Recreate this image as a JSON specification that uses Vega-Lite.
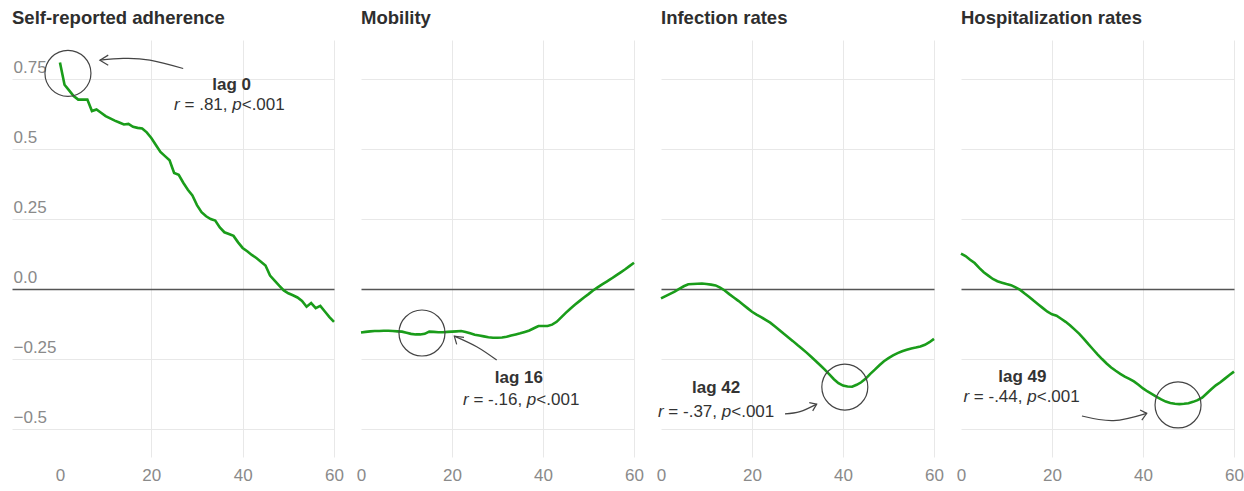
{
  "$schema": "https://vega.github.io/schema/vega-lite/v6.json",
  "background": "white",
  "padding": {"left": 12, "top": 8, "right": 4, "bottom": 4},
  "config": {
    "view": {"stroke": null},
    "font": "Liberation Sans",
    "axis": {"domain": false, "ticks": false, "labelColor": "#8a8a8a", "labelFontSize": 17, "labelFont": "Liberation Sans"},
    "title": {"anchor": "start", "frame": "group", "fontSize": 18.5, "fontWeight": "bold", "color": "#2e2e2e", "baseline": "alphabetic", "offset": 13, "font": "Liberation Sans"}
  },
  "datasets": {
    "series": [
      {"panel":1,"lag":0,"corr":0.81},{"panel":1,"lag":1,"corr":0.73},{"panel":1,"lag":2,"corr":0.71},{"panel":1,"lag":3,"corr":0.69},{"panel":1,"lag":4,"corr":0.677},{"panel":1,"lag":5,"corr":0.677},{"panel":1,"lag":6,"corr":0.677},{"panel":1,"lag":7,"corr":0.636},{"panel":1,"lag":8,"corr":0.642},{"panel":1,"lag":9,"corr":0.63},
      {"panel":1,"lag":10,"corr":0.618},{"panel":1,"lag":11,"corr":0.61},{"panel":1,"lag":12,"corr":0.602},{"panel":1,"lag":13,"corr":0.595},{"panel":1,"lag":14,"corr":0.588},{"panel":1,"lag":15,"corr":0.59},{"panel":1,"lag":16,"corr":0.58},{"panel":1,"lag":17,"corr":0.576},{"panel":1,"lag":18,"corr":0.574},{"panel":1,"lag":19,"corr":0.56},
      {"panel":1,"lag":20,"corr":0.54},{"panel":1,"lag":21,"corr":0.515},{"panel":1,"lag":22,"corr":0.49},{"panel":1,"lag":23,"corr":0.475},{"panel":1,"lag":24,"corr":0.46},{"panel":1,"lag":25,"corr":0.415},{"panel":1,"lag":26,"corr":0.408},{"panel":1,"lag":27,"corr":0.38},{"panel":1,"lag":28,"corr":0.355},{"panel":1,"lag":29,"corr":0.335},
      {"panel":1,"lag":30,"corr":0.3},{"panel":1,"lag":31,"corr":0.275},{"panel":1,"lag":32,"corr":0.26},{"panel":1,"lag":33,"corr":0.25},{"panel":1,"lag":34,"corr":0.245},{"panel":1,"lag":35,"corr":0.22},{"panel":1,"lag":36,"corr":0.203},{"panel":1,"lag":37,"corr":0.197},{"panel":1,"lag":38,"corr":0.19},{"panel":1,"lag":39,"corr":0.167},
      {"panel":1,"lag":40,"corr":0.147},{"panel":1,"lag":41,"corr":0.135},{"panel":1,"lag":42,"corr":0.122},{"panel":1,"lag":43,"corr":0.111},{"panel":1,"lag":44,"corr":0.098},{"panel":1,"lag":45,"corr":0.084},{"panel":1,"lag":46,"corr":0.048},{"panel":1,"lag":47,"corr":0.03},{"panel":1,"lag":48,"corr":0.012},{"panel":1,"lag":49,"corr":-0.005},
      {"panel":1,"lag":50,"corr":-0.015},{"panel":1,"lag":51,"corr":-0.022},{"panel":1,"lag":52,"corr":-0.03},{"panel":1,"lag":53,"corr":-0.042},{"panel":1,"lag":54,"corr":-0.063},{"panel":1,"lag":55,"corr":-0.05},{"panel":1,"lag":56,"corr":-0.068},{"panel":1,"lag":57,"corr":-0.06},{"panel":1,"lag":58,"corr":-0.08},{"panel":1,"lag":59,"corr":-0.1},{"panel":1,"lag":60,"corr":-0.117},

      {"panel":2,"lag":0,"corr":-0.155},{"panel":2,"lag":1,"corr":-0.153},{"panel":2,"lag":2,"corr":-0.151},{"panel":2,"lag":3,"corr":-0.15},{"panel":2,"lag":4,"corr":-0.15},{"panel":2,"lag":5,"corr":-0.149},{"panel":2,"lag":6,"corr":-0.149},{"panel":2,"lag":7,"corr":-0.15},{"panel":2,"lag":8,"corr":-0.151},{"panel":2,"lag":9,"corr":-0.152},
      {"panel":2,"lag":10,"corr":-0.156},{"panel":2,"lag":11,"corr":-0.16},{"panel":2,"lag":12,"corr":-0.162},{"panel":2,"lag":13,"corr":-0.162},{"panel":2,"lag":14,"corr":-0.16},{"panel":2,"lag":15,"corr":-0.152},{"panel":2,"lag":16,"corr":-0.153},{"panel":2,"lag":17,"corr":-0.154},{"panel":2,"lag":18,"corr":-0.154},{"panel":2,"lag":19,"corr":-0.153},
      {"panel":2,"lag":20,"corr":-0.152},{"panel":2,"lag":21,"corr":-0.151},{"panel":2,"lag":22,"corr":-0.15},{"panel":2,"lag":23,"corr":-0.153},{"panel":2,"lag":24,"corr":-0.158},{"panel":2,"lag":25,"corr":-0.163},{"panel":2,"lag":26,"corr":-0.166},{"panel":2,"lag":27,"corr":-0.169},{"panel":2,"lag":28,"corr":-0.172},{"panel":2,"lag":29,"corr":-0.174},
      {"panel":2,"lag":30,"corr":-0.174},{"panel":2,"lag":31,"corr":-0.173},{"panel":2,"lag":32,"corr":-0.17},{"panel":2,"lag":33,"corr":-0.166},{"panel":2,"lag":34,"corr":-0.162},{"panel":2,"lag":35,"corr":-0.158},{"panel":2,"lag":36,"corr":-0.153},{"panel":2,"lag":37,"corr":-0.148},{"panel":2,"lag":38,"corr":-0.14},{"panel":2,"lag":39,"corr":-0.132},
      {"panel":2,"lag":40,"corr":-0.132},{"panel":2,"lag":41,"corr":-0.132},{"panel":2,"lag":42,"corr":-0.127},{"panel":2,"lag":43,"corr":-0.117},{"panel":2,"lag":44,"corr":-0.101},{"panel":2,"lag":45,"corr":-0.085},{"panel":2,"lag":46,"corr":-0.07},{"panel":2,"lag":47,"corr":-0.056},{"panel":2,"lag":48,"corr":-0.043},{"panel":2,"lag":49,"corr":-0.03},
      {"panel":2,"lag":50,"corr":-0.018},{"panel":2,"lag":51,"corr":-0.005},{"panel":2,"lag":52,"corr":0.006},{"panel":2,"lag":53,"corr":0.017},{"panel":2,"lag":54,"corr":0.027},{"panel":2,"lag":55,"corr":0.037},{"panel":2,"lag":56,"corr":0.048},{"panel":2,"lag":57,"corr":0.059},{"panel":2,"lag":58,"corr":0.07},{"panel":2,"lag":59,"corr":0.082},{"panel":2,"lag":60,"corr":0.094},

      {"panel":3,"lag":0,"corr":-0.033},{"panel":3,"lag":1,"corr":-0.025},{"panel":3,"lag":2,"corr":-0.017},{"panel":3,"lag":3,"corr":-0.009},{"panel":3,"lag":4,"corr":0.001},{"panel":3,"lag":5,"corr":0.01},{"panel":3,"lag":6,"corr":0.017},{"panel":3,"lag":7,"corr":0.018},{"panel":3,"lag":8,"corr":0.019},{"panel":3,"lag":9,"corr":0.02},
      {"panel":3,"lag":10,"corr":0.018},{"panel":3,"lag":11,"corr":0.016},{"panel":3,"lag":12,"corr":0.013},{"panel":3,"lag":13,"corr":0.005},{"panel":3,"lag":14,"corr":-0.005},{"panel":3,"lag":15,"corr":-0.018},{"panel":3,"lag":16,"corr":-0.03},{"panel":3,"lag":17,"corr":-0.042},{"panel":3,"lag":18,"corr":-0.055},{"panel":3,"lag":19,"corr":-0.068},
      {"panel":3,"lag":20,"corr":-0.081},{"panel":3,"lag":21,"corr":-0.091},{"panel":3,"lag":22,"corr":-0.1},{"panel":3,"lag":23,"corr":-0.11},{"panel":3,"lag":24,"corr":-0.12},{"panel":3,"lag":25,"corr":-0.133},{"panel":3,"lag":26,"corr":-0.146},{"panel":3,"lag":27,"corr":-0.16},{"panel":3,"lag":28,"corr":-0.173},{"panel":3,"lag":29,"corr":-0.186},
      {"panel":3,"lag":30,"corr":-0.2},{"panel":3,"lag":31,"corr":-0.213},{"panel":3,"lag":32,"corr":-0.227},{"panel":3,"lag":33,"corr":-0.242},{"panel":3,"lag":34,"corr":-0.257},{"panel":3,"lag":35,"corr":-0.272},{"panel":3,"lag":36,"corr":-0.288},{"panel":3,"lag":37,"corr":-0.305},{"panel":3,"lag":38,"corr":-0.322},{"panel":3,"lag":39,"corr":-0.336},
      {"panel":3,"lag":40,"corr":-0.345},{"panel":3,"lag":41,"corr":-0.348},{"panel":3,"lag":42,"corr":-0.349},{"panel":3,"lag":43,"corr":-0.342},{"panel":3,"lag":44,"corr":-0.333},{"panel":3,"lag":45,"corr":-0.32},{"panel":3,"lag":46,"corr":-0.303},{"panel":3,"lag":47,"corr":-0.288},{"panel":3,"lag":48,"corr":-0.272},{"panel":3,"lag":49,"corr":-0.258},
      {"panel":3,"lag":50,"corr":-0.247},{"panel":3,"lag":51,"corr":-0.237},{"panel":3,"lag":52,"corr":-0.229},{"panel":3,"lag":53,"corr":-0.222},{"panel":3,"lag":54,"corr":-0.217},{"panel":3,"lag":55,"corr":-0.212},{"panel":3,"lag":56,"corr":-0.209},{"panel":3,"lag":57,"corr":-0.205},{"panel":3,"lag":58,"corr":-0.199},{"panel":3,"lag":59,"corr":-0.19},{"panel":3,"lag":60,"corr":-0.178},

      {"panel":4,"lag":0,"corr":0.127},{"panel":4,"lag":1,"corr":0.118},{"panel":4,"lag":2,"corr":0.105},{"panel":4,"lag":3,"corr":0.093},{"panel":4,"lag":4,"corr":0.076},{"panel":4,"lag":5,"corr":0.06},{"panel":4,"lag":6,"corr":0.048},{"panel":4,"lag":7,"corr":0.036},{"panel":4,"lag":8,"corr":0.028},{"panel":4,"lag":9,"corr":0.023},
      {"panel":4,"lag":10,"corr":0.018},{"panel":4,"lag":11,"corr":0.014},{"panel":4,"lag":12,"corr":0.006},{"panel":4,"lag":13,"corr":-0.003},{"panel":4,"lag":14,"corr":-0.016},{"panel":4,"lag":15,"corr":-0.028},{"panel":4,"lag":16,"corr":-0.042},{"panel":4,"lag":17,"corr":-0.055},{"panel":4,"lag":18,"corr":-0.068},{"panel":4,"lag":19,"corr":-0.081},
      {"panel":4,"lag":20,"corr":-0.09},{"panel":4,"lag":21,"corr":-0.095},{"panel":4,"lag":22,"corr":-0.106},{"panel":4,"lag":23,"corr":-0.117},{"panel":4,"lag":24,"corr":-0.13},{"panel":4,"lag":25,"corr":-0.145},{"panel":4,"lag":26,"corr":-0.16},{"panel":4,"lag":27,"corr":-0.178},{"panel":4,"lag":28,"corr":-0.197},{"panel":4,"lag":29,"corr":-0.215},
      {"panel":4,"lag":30,"corr":-0.233},{"panel":4,"lag":31,"corr":-0.25},{"panel":4,"lag":32,"corr":-0.266},{"panel":4,"lag":33,"corr":-0.28},{"panel":4,"lag":34,"corr":-0.292},{"panel":4,"lag":35,"corr":-0.303},{"panel":4,"lag":36,"corr":-0.313},{"panel":4,"lag":37,"corr":-0.321},{"panel":4,"lag":38,"corr":-0.33},{"panel":4,"lag":39,"corr":-0.342},
      {"panel":4,"lag":40,"corr":-0.355},{"panel":4,"lag":41,"corr":-0.366},{"panel":4,"lag":42,"corr":-0.375},{"panel":4,"lag":43,"corr":-0.385},{"panel":4,"lag":44,"corr":-0.394},{"panel":4,"lag":45,"corr":-0.402},{"panel":4,"lag":46,"corr":-0.407},{"panel":4,"lag":47,"corr":-0.41},{"panel":4,"lag":48,"corr":-0.411},{"panel":4,"lag":49,"corr":-0.41},
      {"panel":4,"lag":50,"corr":-0.408},{"panel":4,"lag":51,"corr":-0.403},{"panel":4,"lag":52,"corr":-0.397},{"panel":4,"lag":53,"corr":-0.388},{"panel":4,"lag":54,"corr":-0.373},{"panel":4,"lag":55,"corr":-0.358},{"panel":4,"lag":56,"corr":-0.344},{"panel":4,"lag":57,"corr":-0.333},{"panel":4,"lag":58,"corr":-0.32},{"panel":4,"lag":59,"corr":-0.307},{"panel":4,"lag":60,"corr":-0.295}
    ],
    "ann": [
      {"panel":1,"kind":"circle","lag":1.75,"corr":0.771},
      {"panel":1,"kind":"shaft","ord":1,"lag":26.98,"corr":0.788},{"panel":1,"kind":"shaft","ord":2,"lag":19.69,"corr":0.818},{"panel":1,"kind":"shaft","ord":3,"lag":13.85,"corr":0.824},{"panel":1,"kind":"shaft","ord":4,"lag":8.75,"corr":0.818},
      {"panel":1,"kind":"head","ord":1,"lag":10.57,"corr":0.836},{"panel":1,"kind":"head","ord":2,"lag":8.75,"corr":0.818},{"panel":1,"kind":"head","ord":3,"lag":10.57,"corr":0.8},
      {"panel":1,"kind":"label","lag":37.6,"corr":0.729,"txt":"lag 0"},
      {"panel":1,"kind":"stats","lag":37.1,"corr":0.657,"r":"r","mid":"= .81,","p":"p","tail":"<.001"},

      {"panel":2,"kind":"circle","lag":13.4,"corr":-0.157},
      {"panel":2,"kind":"shaft","ord":1,"lag":29.82,"corr":-0.2536},{"panel":2,"kind":"shaft","ord":2,"lag":25.43,"corr":-0.206},{"panel":2,"kind":"shaft","ord":3,"lag":20.51,"corr":-0.168},
      {"panel":2,"kind":"head","ord":1,"lag":22.64,"corr":-0.1725},{"panel":2,"kind":"head","ord":2,"lag":20.51,"corr":-0.168},{"panel":2,"kind":"head","ord":3,"lag":21.03,"corr":-0.1975},
      {"panel":2,"kind":"label","lag":34.7,"corr":-0.318,"txt":"lag 16"},
      {"panel":2,"kind":"stats","lag":35.2,"corr":-0.396,"r":"r","mid":"= -.16,","p":"p","tail":"<.001"},

      {"panel":3,"kind":"circle","lag":40.4,"corr":-0.35},
      {"panel":3,"kind":"shaft","ord":1,"lag":27.25,"corr":-0.446},{"panel":3,"kind":"shaft","ord":2,"lag":30.55,"corr":-0.438},{"panel":3,"kind":"shaft","ord":3,"lag":34.22,"corr":-0.411},
      {"panel":3,"kind":"head","ord":1,"lag":32.59,"corr":-0.406},{"panel":3,"kind":"head","ord":2,"lag":34.22,"corr":-0.411},{"panel":3,"kind":"head","ord":3,"lag":33.34,"corr":-0.435},
      {"panel":3,"kind":"label","lag":12.1,"corr":-0.354,"txt":"lag 42"},
      {"panel":3,"kind":"stats","lag":12.1,"corr":-0.439,"r":"r","mid":"= -.37,","p":"p","tail":"<.001"},

      {"panel":4,"kind":"circle","lag":47.7,"corr":-0.414},
      {"panel":4,"kind":"shaft","ord":1,"lag":26.58,"corr":-0.4536},{"panel":4,"kind":"shaft","ord":2,"lag":33.51,"corr":-0.47},{"panel":4,"kind":"shaft","ord":3,"lag":40.83,"corr":-0.444},
      {"panel":4,"kind":"head","ord":1,"lag":39.36,"corr":-0.432},{"panel":4,"kind":"head","ord":2,"lag":40.83,"corr":-0.444},{"panel":4,"kind":"head","ord":3,"lag":39.74,"corr":-0.468},
      {"panel":4,"kind":"label","lag":13.5,"corr":-0.314,"txt":"lag 49"},
      {"panel":4,"kind":"stats","lag":13.3,"corr":-0.386,"r":"r","mid":"= -.44,","p":"p","tail":"<.001"}
    ]
  },
  "spacing": 27,
  "bounds": "flush",
  "hconcat": [
    {
      "width": 322, "height": 417,
      "title": "Self-reported adherence",
      "encoding": {
        "x": {"field": "lag", "type": "quantitative", "scale": {"domain": [-10.5, 60], "nice": false, "zero": false},
              "axis": {"values": [0, 20, 40, 60], "title": null, "labelPadding": 10, "labelFlush": false,
                       "gridColor": {"condition": {"test": "datum.value === 0", "value": "transparent"}, "value": "#e8e8e8"}}},
        "y": {"field": "corr", "type": "quantitative", "scale": {"domain": [-0.6, 0.89], "nice": false, "zero": false},
              "axis": {"values": [-0.5, -0.25, 0, 0.25, 0.5, 0.75], "title": null, "labelAlign": "left", "labelPadding": -1, "labelBaseline": "alphabetic", "labelOffset": -7,
                       "labelExpr": "datum.value === 0 ? '0.0' : replace(format(datum.value, '.2~f'), '-', '−')",
                       "gridColor": {"condition": {"test": "datum.value === 0", "value": "#555555"}, "value": "#e8e8e8"},
                       "gridWidth": {"condition": {"test": "datum.value === 0", "value": 1.3}, "value": 1}}}
      },
      "layer": [
        {"data": {"name": "series"}, "transform": [{"filter": "datum.panel === 1"}], "mark": {"type": "line", "color": "#1a9c1a", "strokeWidth": 2.6}},
        {"data": {"name": "ann"}, "transform": [{"filter": "datum.panel === 1 && datum.kind === 'circle'"}], "mark": {"type": "point", "shape": "circle", "size": 2116, "filled": false, "stroke": "#444444", "strokeWidth": 1.2, "opacity": 1}},
        {"data": {"name": "ann"}, "transform": [{"filter": "datum.panel === 1 && datum.kind === 'shaft'"}], "mark": {"type": "line", "color": "#444444", "strokeWidth": 1.2, "interpolate": "natural"}, "encoding": {"order": {"field": "ord", "type": "quantitative"}}},
        {"data": {"name": "ann"}, "transform": [{"filter": "datum.panel === 1 && datum.kind === 'head'"}], "mark": {"type": "line", "color": "#444444", "strokeWidth": 1.2}, "encoding": {"order": {"field": "ord", "type": "quantitative"}}},
        {"data": {"name": "ann"}, "transform": [{"filter": "datum.panel === 1 && datum.kind === 'label'"}], "mark": {"type": "text", "fontSize": 17, "fontWeight": "bold", "color": "#333333", "align": "center", "baseline": "middle"}, "encoding": {"text": {"field": "txt"}}},
        {"data": {"name": "ann"}, "transform": [{"filter": "datum.panel === 1 && datum.kind === 'stats'"}], "mark": {"type": "text", "fontSize": 17, "fontStyle": "italic", "color": "#333333", "align": "left", "baseline": "middle", "dx": -55.3}, "encoding": {"text": {"field": "r"}}},
        {"data": {"name": "ann"}, "transform": [{"filter": "datum.panel === 1 && datum.kind === 'stats'"}], "mark": {"type": "text", "fontSize": 17, "color": "#333333", "align": "left", "baseline": "middle", "dx": -44.9}, "encoding": {"text": {"field": "mid"}}},
        {"data": {"name": "ann"}, "transform": [{"filter": "datum.panel === 1 && datum.kind === 'stats'"}], "mark": {"type": "text", "fontSize": 17, "fontStyle": "italic", "color": "#333333", "align": "left", "baseline": "middle", "dx": 2.8}, "encoding": {"text": {"field": "p"}}},
        {"data": {"name": "ann"}, "transform": [{"filter": "datum.panel === 1 && datum.kind === 'stats'"}], "mark": {"type": "text", "fontSize": 17, "color": "#333333", "align": "left", "baseline": "middle", "dx": 12.3}, "encoding": {"text": {"field": "tail"}}}
      ]
    },
    {
      "width": 273, "height": 417,
      "title": "Mobility",
      "encoding": {
        "x": {"field": "lag", "type": "quantitative", "scale": {"domain": [0, 60], "nice": false, "zero": false},
              "axis": {"values": [0, 20, 40, 60], "title": null, "labelPadding": 10, "labelFlush": false,
                       "gridColor": {"condition": {"test": "datum.value === 0", "value": "transparent"}, "value": "#e8e8e8"}}},
        "y": {"field": "corr", "type": "quantitative", "scale": {"domain": [-0.6, 0.89], "nice": false, "zero": false},
              "axis": {"values": [-0.5, -0.25, 0, 0.25, 0.5, 0.75], "title": null, "labels": false,
                       "gridColor": {"condition": {"test": "datum.value === 0", "value": "#555555"}, "value": "#e8e8e8"},
                       "gridWidth": {"condition": {"test": "datum.value === 0", "value": 1.3}, "value": 1}}}
      },
      "layer": [
        {"data": {"name": "series"}, "transform": [{"filter": "datum.panel === 2"}], "mark": {"type": "line", "color": "#1a9c1a", "strokeWidth": 2.6}},
        {"data": {"name": "ann"}, "transform": [{"filter": "datum.panel === 2 && datum.kind === 'circle'"}], "mark": {"type": "point", "shape": "circle", "size": 2116, "filled": false, "stroke": "#444444", "strokeWidth": 1.2, "opacity": 1}},
        {"data": {"name": "ann"}, "transform": [{"filter": "datum.panel === 2 && datum.kind === 'shaft'"}], "mark": {"type": "line", "color": "#444444", "strokeWidth": 1.2, "interpolate": "natural"}, "encoding": {"order": {"field": "ord", "type": "quantitative"}}},
        {"data": {"name": "ann"}, "transform": [{"filter": "datum.panel === 2 && datum.kind === 'head'"}], "mark": {"type": "line", "color": "#444444", "strokeWidth": 1.2}, "encoding": {"order": {"field": "ord", "type": "quantitative"}}},
        {"data": {"name": "ann"}, "transform": [{"filter": "datum.panel === 2 && datum.kind === 'label'"}], "mark": {"type": "text", "fontSize": 17, "fontWeight": "bold", "color": "#333333", "align": "center", "baseline": "middle"}, "encoding": {"text": {"field": "txt"}}},
        {"data": {"name": "ann"}, "transform": [{"filter": "datum.panel === 2 && datum.kind === 'stats'"}], "mark": {"type": "text", "fontSize": 17, "fontStyle": "italic", "color": "#333333", "align": "left", "baseline": "middle", "dx": -58.1}, "encoding": {"text": {"field": "r"}}},
        {"data": {"name": "ann"}, "transform": [{"filter": "datum.panel === 2 && datum.kind === 'stats'"}], "mark": {"type": "text", "fontSize": 17, "color": "#333333", "align": "left", "baseline": "middle", "dx": -47.7}, "encoding": {"text": {"field": "mid"}}},
        {"data": {"name": "ann"}, "transform": [{"filter": "datum.panel === 2 && datum.kind === 'stats'"}], "mark": {"type": "text", "fontSize": 17, "fontStyle": "italic", "color": "#333333", "align": "left", "baseline": "middle", "dx": 5.7}, "encoding": {"text": {"field": "p"}}},
        {"data": {"name": "ann"}, "transform": [{"filter": "datum.panel === 2 && datum.kind === 'stats'"}], "mark": {"type": "text", "fontSize": 17, "color": "#333333", "align": "left", "baseline": "middle", "dx": 15.2}, "encoding": {"text": {"field": "tail"}}}
      ]
    },
    {
      "width": 273, "height": 417,
      "title": "Infection rates",
      "encoding": {
        "x": {"field": "lag", "type": "quantitative", "scale": {"domain": [0, 60], "nice": false, "zero": false},
              "axis": {"values": [0, 20, 40, 60], "title": null, "labelPadding": 10, "labelFlush": false,
                       "gridColor": {"condition": {"test": "datum.value === 0", "value": "transparent"}, "value": "#e8e8e8"}}},
        "y": {"field": "corr", "type": "quantitative", "scale": {"domain": [-0.6, 0.89], "nice": false, "zero": false},
              "axis": {"values": [-0.5, -0.25, 0, 0.25, 0.5, 0.75], "title": null, "labels": false,
                       "gridColor": {"condition": {"test": "datum.value === 0", "value": "#555555"}, "value": "#e8e8e8"},
                       "gridWidth": {"condition": {"test": "datum.value === 0", "value": 1.3}, "value": 1}}}
      },
      "layer": [
        {"data": {"name": "series"}, "transform": [{"filter": "datum.panel === 3"}], "mark": {"type": "line", "color": "#1a9c1a", "strokeWidth": 2.6}},
        {"data": {"name": "ann"}, "transform": [{"filter": "datum.panel === 3 && datum.kind === 'circle'"}], "mark": {"type": "point", "shape": "circle", "size": 2116, "filled": false, "stroke": "#444444", "strokeWidth": 1.2, "opacity": 1}},
        {"data": {"name": "ann"}, "transform": [{"filter": "datum.panel === 3 && datum.kind === 'shaft'"}], "mark": {"type": "line", "color": "#444444", "strokeWidth": 1.2, "interpolate": "natural"}, "encoding": {"order": {"field": "ord", "type": "quantitative"}}},
        {"data": {"name": "ann"}, "transform": [{"filter": "datum.panel === 3 && datum.kind === 'head'"}], "mark": {"type": "line", "color": "#444444", "strokeWidth": 1.2}, "encoding": {"order": {"field": "ord", "type": "quantitative"}}},
        {"data": {"name": "ann"}, "transform": [{"filter": "datum.panel === 3 && datum.kind === 'label'"}], "mark": {"type": "text", "fontSize": 17, "fontWeight": "bold", "color": "#333333", "align": "center", "baseline": "middle"}, "encoding": {"text": {"field": "txt"}}},
        {"data": {"name": "ann"}, "transform": [{"filter": "datum.panel === 3 && datum.kind === 'stats'"}], "mark": {"type": "text", "fontSize": 17, "fontStyle": "italic", "color": "#333333", "align": "left", "baseline": "middle", "dx": -58.1}, "encoding": {"text": {"field": "r"}}},
        {"data": {"name": "ann"}, "transform": [{"filter": "datum.panel === 3 && datum.kind === 'stats'"}], "mark": {"type": "text", "fontSize": 17, "color": "#333333", "align": "left", "baseline": "middle", "dx": -47.7}, "encoding": {"text": {"field": "mid"}}},
        {"data": {"name": "ann"}, "transform": [{"filter": "datum.panel === 3 && datum.kind === 'stats'"}], "mark": {"type": "text", "fontSize": 17, "fontStyle": "italic", "color": "#333333", "align": "left", "baseline": "middle", "dx": 5.7}, "encoding": {"text": {"field": "p"}}},
        {"data": {"name": "ann"}, "transform": [{"filter": "datum.panel === 3 && datum.kind === 'stats'"}], "mark": {"type": "text", "fontSize": 17, "color": "#333333", "align": "left", "baseline": "middle", "dx": 15.2}, "encoding": {"text": {"field": "tail"}}}
      ]
    },
    {
      "width": 273, "height": 417,
      "title": "Hospitalization rates",
      "encoding": {
        "x": {"field": "lag", "type": "quantitative", "scale": {"domain": [0, 60], "nice": false, "zero": false},
              "axis": {"values": [0, 20, 40, 60], "title": null, "labelPadding": 10, "labelFlush": false,
                       "gridColor": {"condition": {"test": "datum.value === 0", "value": "transparent"}, "value": "#e8e8e8"}}},
        "y": {"field": "corr", "type": "quantitative", "scale": {"domain": [-0.6, 0.89], "nice": false, "zero": false},
              "axis": {"values": [-0.5, -0.25, 0, 0.25, 0.5, 0.75], "title": null, "labels": false,
                       "gridColor": {"condition": {"test": "datum.value === 0", "value": "#555555"}, "value": "#e8e8e8"},
                       "gridWidth": {"condition": {"test": "datum.value === 0", "value": 1.3}, "value": 1}}}
      },
      "layer": [
        {"data": {"name": "series"}, "transform": [{"filter": "datum.panel === 4"}], "mark": {"type": "line", "color": "#1a9c1a", "strokeWidth": 2.6}},
        {"data": {"name": "ann"}, "transform": [{"filter": "datum.panel === 4 && datum.kind === 'circle'"}], "mark": {"type": "point", "shape": "circle", "size": 2116, "filled": false, "stroke": "#444444", "strokeWidth": 1.2, "opacity": 1}},
        {"data": {"name": "ann"}, "transform": [{"filter": "datum.panel === 4 && datum.kind === 'shaft'"}], "mark": {"type": "line", "color": "#444444", "strokeWidth": 1.2, "interpolate": "natural"}, "encoding": {"order": {"field": "ord", "type": "quantitative"}}},
        {"data": {"name": "ann"}, "transform": [{"filter": "datum.panel === 4 && datum.kind === 'head'"}], "mark": {"type": "line", "color": "#444444", "strokeWidth": 1.2}, "encoding": {"order": {"field": "ord", "type": "quantitative"}}},
        {"data": {"name": "ann"}, "transform": [{"filter": "datum.panel === 4 && datum.kind === 'label'"}], "mark": {"type": "text", "fontSize": 17, "fontWeight": "bold", "color": "#333333", "align": "center", "baseline": "middle"}, "encoding": {"text": {"field": "txt"}}},
        {"data": {"name": "ann"}, "transform": [{"filter": "datum.panel === 4 && datum.kind === 'stats'"}], "mark": {"type": "text", "fontSize": 17, "fontStyle": "italic", "color": "#333333", "align": "left", "baseline": "middle", "dx": -58.1}, "encoding": {"text": {"field": "r"}}},
        {"data": {"name": "ann"}, "transform": [{"filter": "datum.panel === 4 && datum.kind === 'stats'"}], "mark": {"type": "text", "fontSize": 17, "color": "#333333", "align": "left", "baseline": "middle", "dx": -47.7}, "encoding": {"text": {"field": "mid"}}},
        {"data": {"name": "ann"}, "transform": [{"filter": "datum.panel === 4 && datum.kind === 'stats'"}], "mark": {"type": "text", "fontSize": 17, "fontStyle": "italic", "color": "#333333", "align": "left", "baseline": "middle", "dx": 5.7}, "encoding": {"text": {"field": "p"}}},
        {"data": {"name": "ann"}, "transform": [{"filter": "datum.panel === 4 && datum.kind === 'stats'"}], "mark": {"type": "text", "fontSize": 17, "color": "#333333", "align": "left", "baseline": "middle", "dx": 15.2}, "encoding": {"text": {"field": "tail"}}}
      ]
    }
  ]
}
